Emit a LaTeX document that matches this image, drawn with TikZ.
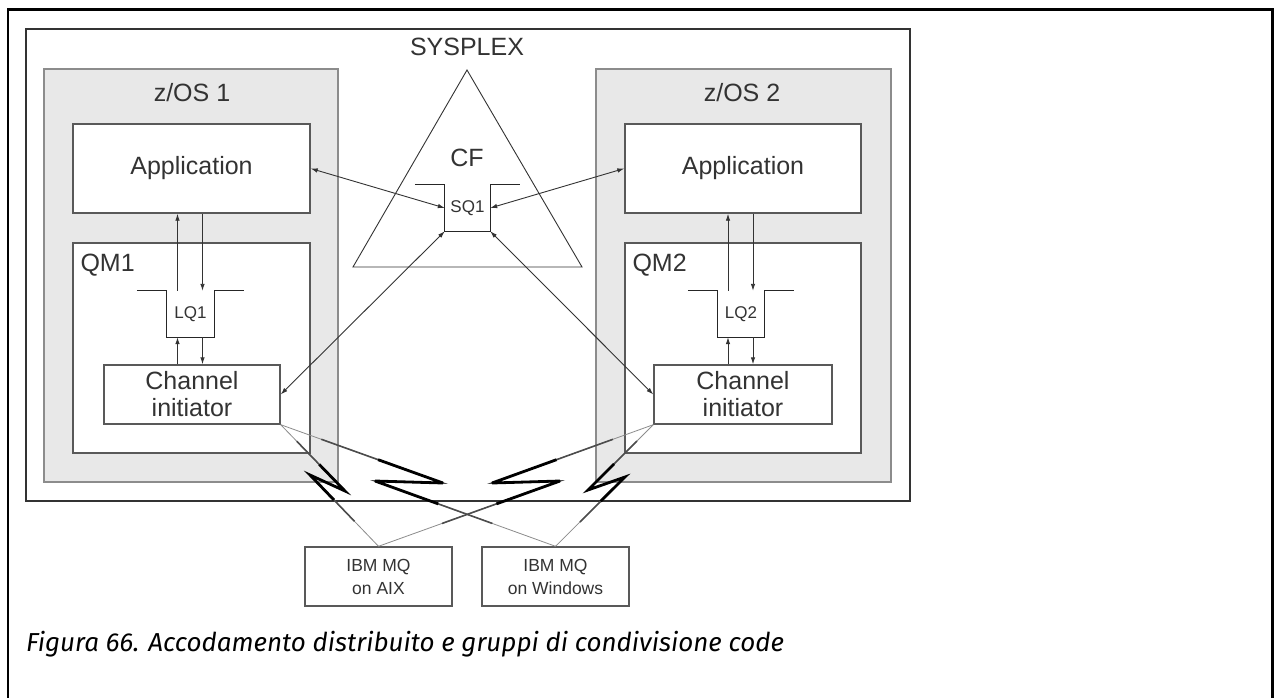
\documentclass[tikz,border=0pt]{standalone}
\usepackage{fontspec}
\setmainfont{Liberation Sans}
\newfontfamily\capfont{Fira Sans}
\usetikzlibrary{arrows.meta,calc}

\tikzset{
  frameline/.style={line width=2.5pt, draw=black},
  sysbox/.style={draw=black!80, line width=1.5pt, fill=white, inner sep=0pt},
  osbox/.style={draw=black!45, line width=1.5pt, fill=black!9, inner sep=0pt},
  wbox/.style={draw=black!65, line width=1.4pt, fill=white, inner sep=0pt},
  lbl/.style={text=black!80, font=\fontsize{25}{27}\selectfont, inner sep=0pt},
  qlbl/.style={text=black!80, font=\fontsize{17}{19}\selectfont, inner sep=0pt, minimum height=46pt},
  mqlbl/.style={text=black!80, font=\fontsize{17.5}{23}\selectfont, align=center},
  qline/.style={draw=black!85, line width=1.2pt},
  link/.style={draw=black!80, line width=0.9pt, {Latex[length=7pt,width=4.5pt]}-{Latex[length=7pt,width=4.5pt]}},
  flow/.style={draw=black!80, line width=0.9pt, -{Latex[length=7pt,width=4.5pt]}},
  wanthin/.style={draw=black!45, line width=0.8pt},
  wanmid/.style={draw=black!70, line width=1.6pt, line join=miter},
  wanbolt/.style={draw=black, line width=2.8pt, line join=miter, miter limit=6}
}

% queue symbol round a node
\newcommand\qshape[1]{%
  \draw[qline] ([xshift=-30pt]#1.north west) -- (#1.north west) -- (#1.south west)
    -- (#1.south east) -- (#1.north east) -- ([xshift=30pt]#1.north east);}
% line with a lightning bolt: start, tip, back, end
\newcommand\wanlink[4]{%
  \draw[wanthin] (#1) -- (#2) -- (#3) -- (#4);
  \draw[wanmid] ($(#1)!0.25!(#2)$) -- (#2) -- (#3) -- ($(#3)!0.65!(#4)$);
  \draw[wanbolt] ($(#1)!0.6!(#2)$) -- (#2) -- (#3) -- ($(#3)!0.35!(#4)$);}

\begin{document}
\begin{tikzpicture}[x=1pt,y=-1pt]
    \useasboundingbox (0,0) rectangle (1274,698);
    \fill[white] (0,0) rectangle (1274,698);
    \draw[frameline] (8,698) -- (8,9.5) -- (1272.5,9.5) -- (1272.5,698);

    % sysplex and the two systems
    \node[sysbox, minimum width=884pt, minimum height=472pt] (sysplex) at (468,265) {};
    \node[lbl] (sysname) at (467,47) {SYSPLEX};
    \node[osbox, minimum width=294pt, minimum height=413pt] (zos1) at (191,275.5) {};
    \node[osbox, minimum width=295pt, minimum height=413pt] (zos2) at (743.5,275.5) {};
    \node[lbl] (zos1name) at (192,93) {z/OS 1};
    \node[lbl] (zos2name) at (742,93) {z/OS 2};

    % coupling facility
    \coordinate (cftop) at (467,70);
    \coordinate (cfleft) at (353,267);
    \coordinate (cfright) at (582,267);
    \draw[draw=black!80, line width=0.9pt] (cftop) -- (cfleft) -- (cfright) -- cycle;
    \node[lbl] (cfname) at (467,158) {CF};
    \node[qlbl, minimum width=45pt] (sq1) at (467.5,208) {SQ1};
    \qshape{sq1}

    % applications
    \node[wbox, lbl, minimum width=237pt, minimum height=89pt] (app1) at (191.5,168.5) {Application};
    \node[wbox, lbl, minimum width=236pt, minimum height=89pt] (app2) at (743,168.5) {Application};

    % queue managers
    \node[wbox, minimum width=237pt, minimum height=210pt] (qm1) at (191.5,348) {};
    \node[wbox, minimum width=236pt, minimum height=210pt] (qm2) at (743,348) {};
    \node[lbl, anchor=north west] (qm1name) at ([shift={(8pt,-12pt)}]qm1.north west) {QM1};
    \node[lbl, anchor=north west] (qm2name) at ([shift={(8pt,-12pt)}]qm2.north west) {QM2};
    \node[qlbl, minimum width=47pt] (lq1) at (190.5,314) {LQ1};
    \node[qlbl, minimum width=46pt] (lq2) at (741,314) {LQ2};
    \qshape{lq1}
    \qshape{lq2}

    % channel initiators
    \node[wbox, lbl, align=center, minimum width=176pt, minimum height=59pt] (ci1) at (192,394.5) {Channel\\initiator};
    \node[wbox, lbl, align=center, minimum width=178pt, minimum height=59pt] (ci2) at (743,394.5) {Channel\\initiator};

    % other platforms
    \node[wbox, mqlbl, minimum width=147pt, minimum height=59pt] (mqaix) at (378.5,576.5) {IBM MQ\\on AIX};
    \node[wbox, mqlbl, minimum width=147pt, minimum height=59pt] (mqwin) at (555.5,576.5) {IBM MQ\\on Windows};

    % message flows
    \draw[link] (app1.east) -- (sq1.west);
    \draw[link] (app2.west) -- (sq1.east);
    \draw[link] (ci1.east) -- (sq1.south west);
    \draw[link] (ci2.west) -- (sq1.south east);
    \draw[flow] ([xshift=-13pt]lq1.north) -- ([xshift=-13pt]lq1.north |- app1.south);
    \draw[flow] ([xshift=12pt]lq1.north |- app1.south) -- ([xshift=12pt]lq1.north);
    \draw[flow] ([xshift=-13pt]lq1.south |- ci1.north) -- ([xshift=-13pt]lq1.south);
    \draw[flow] ([xshift=12pt]lq1.south) -- ([xshift=12pt]lq1.south |- ci1.north);
    \draw[flow] ([xshift=-13pt]lq2.north) -- ([xshift=-13pt]lq2.north |- app2.south);
    \draw[flow] ([xshift=12pt]lq2.north |- app2.south) -- ([xshift=12pt]lq2.north);
    \draw[flow] ([xshift=-13pt]lq2.south |- ci2.north) -- ([xshift=-13pt]lq2.south);
    \draw[flow] ([xshift=12pt]lq2.south) -- ([xshift=12pt]lq2.south |- ci2.north);

    % network links
    \coordinate (tipa) at (345,491);  \coordinate (backa) at (310,475);
    \coordinate (tipb) at (443,483);  \coordinate (backb) at (375,481);
    \coordinate (tipc) at (492,483);  \coordinate (backc) at (560,481);
    \coordinate (tipd) at (588,490);  \coordinate (backd) at (625,477);
    \wanlink{ci1.south east}{tipa}{backa}{mqaix.north}
    \wanlink{ci1.south east}{tipb}{backb}{mqwin.north}
    \wanlink{ci2.south west}{tipc}{backc}{mqaix.north}
    \wanlink{ci2.south west}{tipd}{backd}{mqwin.north}

    \node[anchor=base west, inner sep=0pt, font=\capfont\itshape\fontsize{26}{30}\selectfont] (caption) at (26,651)
      {Figura 66. Accodamento distribuito e gruppi di condivisione code};
\end{tikzpicture}
\end{document}
